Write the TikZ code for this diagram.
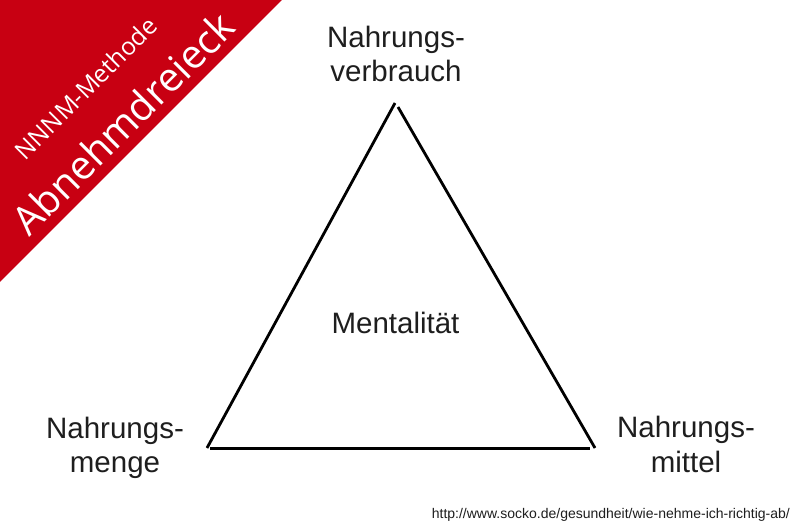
\documentclass[tikz,border=0pt]{standalone}
\usepackage{fontspec}
\setmainfont{Liberation Sans}
\newfontfamily\handfont{Open Sans}
\definecolor{bannerred}{RGB}{200,0,18}
\definecolor{textgray}{RGB}{30,30,30}
\begin{document}
\begin{tikzpicture}[x=1pt,y=1pt,
  lbl/.style={font=\fontsize{29.5}{34.5}\selectfont, text=textgray, align=center, inner sep=0pt, anchor=base},
  side/.style={line width=2.8pt, black},
  banner/.style={text=white, rotate=45, inner sep=0pt, font=\handfont}]
\useasboundingbox (0,0) rectangle (800,528);
\fill[white] (0,0) rectangle (800,528);
% red banner
\fill[bannerred] (0,528) -- (282,528) -- (0,246) -- cycle;
\node[banner, font=\handfont\fontsize{24.5}{24.5}\selectfont] (meth) at (86,440) {NNNM-Methode};
\node[banner, font=\handfont\fontsize{40}{40}\selectfont] (abn) at (123,405) {Abnehmdreieck};
% triangle corners
\coordinate (lt) at (207,80);
\coordinate (tl) at (395,425);
\coordinate (tr) at (398,421);
\coordinate (rt) at (595,80);
\coordinate (bl) at (210,79.5);
\coordinate (br) at (590,79.5);
\draw[side] (lt) -- (tl);
\draw[side] (tr) -- (rt);
\draw[side] (bl) -- (br);
% labels (base anchor = baseline of the last line)
\node[lbl] (top) at (396,446.3) {Nahrungs-\\verbrauch};
\node[lbl] (left) at (115,55.3) {Nahrungs-\\menge};
\node[lbl] (right) at (686,56) {Nahrungs-\\mittel};
\node[lbl] (ment) at (395.5,195) {Mentalität};
\node[font=\fontsize{14}{14}\selectfont, text=textgray, inner sep=0pt, anchor=base east] (url) at (790,10) {http://www.socko.de/gesundheit/wie-nehme-ich-richtig-ab/};
\end{tikzpicture}
\end{document}
